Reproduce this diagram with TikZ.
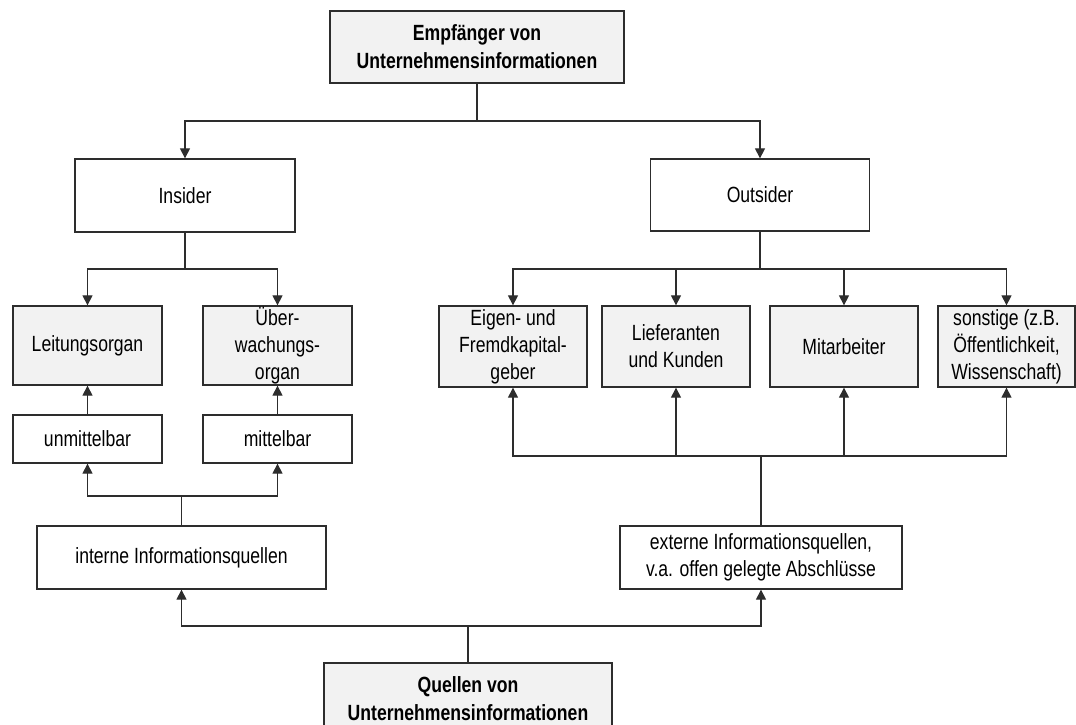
\documentclass[tikz,border=0pt]{standalone}
\usepackage{fontspec}
\setmainfont{Liberation Sans}[FakeStretch=0.8]
\usetikzlibrary{arrows.meta, positioning, calc}
\definecolor{LineGray}{RGB}{45, 45, 45}
\definecolor{BoxGray}{RGB}{242, 242, 242}

\begin{document}
\begin{tikzpicture}[
  x=0.5pt, y=-0.5pt,
  box/.style={draw=LineGray, fill=white, line width=0.65pt, align=center, inner sep=0pt, font=\fontsize{11}{13.5}\selectfont},
  graybox/.style={box, fill=BoxGray},
  headbox/.style={graybox, font=\fontsize{11}{14}\selectfont\bfseries},
  arrow/.style={-{Triangle[length=5pt, width=5pt]}, line width=0.6pt, draw=LineGray},
  line/.style={line width=0.6pt, draw=LineGray}
]
  \useasboundingbox (0,0) rectangle (1076,724);

  % headline and the two groups
  \node[headbox, minimum width=147pt, minimum height=36pt] (empf) at (477,47) {Empfänger von\\Unternehmensinformationen};
  \node[box, minimum width=110pt, minimum height=36.5pt] (insider) at (185,195.5) {Insider};
  \node[box, minimum width=109.5pt, minimum height=36pt] (outsider) at (760,195) {Outsider};

  % insider side
  \node[graybox, minimum width=74.5pt, minimum height=39.5pt] (leitung) at (87.5,345.5) {Leitungsorgan};
  \node[graybox, minimum width=74.5pt, minimum height=39.5pt] (ueberw) at (277.5,345.5) {Über-\\wachungs-\\organ};
  \node[box, minimum width=74.5pt, minimum height=24pt] (unmittel) at (87.5,439) {unmittelbar};
  \node[box, minimum width=74.5pt, minimum height=24pt] (mittel) at (277.5,439) {mittelbar};
  \node[box, minimum width=144.5pt, minimum height=31.5pt] (intern) at (181.5,557.5) {interne Informationsquellen};

  % outsider side
  \node[graybox, minimum width=74pt, minimum height=40.5pt] (eigen) at (513,346.5) {Eigen- und\\Fremdkapital-\\geber};
  \node[graybox, minimum width=74pt, minimum height=40.5pt] (liefer) at (676,346.5) {Lieferanten\\und Kunden};
  \node[graybox, minimum width=74pt, minimum height=40.5pt] (mitarb) at (844,346.5) {Mitarbeiter};
  \node[graybox, minimum width=68.5pt, minimum height=40.5pt] (sonst) at (1006.5,346.5) {sonstige (z.B.\\Öffentlichkeit,\\Wissenschaft)};
  \node[box, minimum width=141pt, minimum height=31.5pt] (extern) at (761,557.5) {externe Informationsquellen,\\v.a. offen gelegte Abschlüsse};

  \node[headbox, minimum width=144pt, minimum height=36pt] (quellen) at (468,699) {Quellen von\\Unternehmensinformationen};

  % junctions
  \coordinate (jempf) at (empf.south |- 0,121);
  \coordinate (jins) at (insider.south |- 0,269);
  \coordinate (jout) at (outsider.south |- 0,269);
  \coordinate (jint) at (intern.north |- 0,496);
  \coordinate (jext) at (extern.north |- 0,456);
  \coordinate (jquel) at (quellen.north |- 0,626);

  \draw[line] (empf) -- (jempf);
  \draw[arrow] (jempf) -| (insider);
  \draw[arrow] (jempf) -| (outsider);

  \draw[line] (insider) -- (jins);
  \draw[arrow] (jins) -| (leitung);
  \draw[arrow] (jins) -| (ueberw);
  \draw[arrow] (unmittel) -- (leitung);
  \draw[arrow] (mittel) -- (ueberw);
  \draw[line] (intern) -- (jint);
  \draw[arrow] (jint) -| (unmittel);
  \draw[arrow] (jint) -| (mittel);

  \draw[line] (outsider) -- (jout);
  \draw[line] (extern) -- (jext);
  \foreach \grp in {eigen, liefer, mitarb, sonst} {
    \draw[arrow] (jout) -| (\grp);
    \draw[arrow] (jext) -| (\grp);
  }

  \draw[line] (quellen) -- (jquel);
  \draw[arrow] (jquel) -| (intern);
  \draw[arrow] (jquel) -| (extern);
\end{tikzpicture}
\end{document}
